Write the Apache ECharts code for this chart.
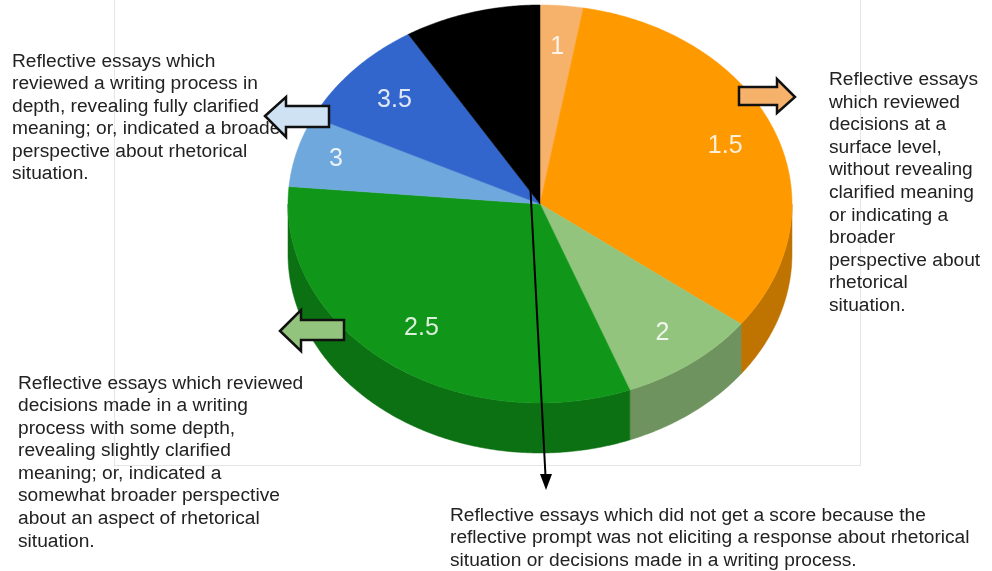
<!DOCTYPE html>
<html><head><meta charset="utf-8">
<style>html,body{margin:0;padding:0;background:#fff}#c{width:992px;height:571px}</style>
<script src="https://cdn.jsdelivr.net/npm/echarts@6/dist/echarts.min.js"></script>
</head><body><div id="c"></div>
<script>
const categories = ['1','1.5','2','2.5','3','3.5','No score'];
const shares = [2.75,32.55,8.9,32.2,5.8,9.05,8.75];
const topColors = ['#f6b26b','#ff9900','#93c47d','#109618','#6fa8dc','#3366cc','#000000'];
const sideColors = ['#b88650','#bf7300','#6e935e','#0c7112','#537ea5','#264d99','#000000'];
const labelRadii = [0.79,0.79,0.81,0.78,0.84,0.78,0];
const noteReviewedInDepth = 'Reflective essays which\nreviewed a writing process in\ndepth, revealing fully clarified\nmeaning; or, indicated a broader\nperspective about rhetorical\nsituation.';
const noteSurface = 'Reflective essays\nwhich reviewed\ndecisions at a\nsurface level,\nwithout revealing\nclarified meaning\nor indicating a\nbroader\nperspective about\nrhetorical\nsituation.';
const noteSomeDepth = 'Reflective essays which reviewed\ndecisions made in a writing\nprocess with some depth,\nrevealing slightly clarified\nmeaning; or, indicated a\nsomewhat broader perspective\nabout an aspect of rhetorical\nsituation.';
const noteNoScore = 'Reflective essays which did not get a score because the\nreflective prompt was not eliciting a response about rhetorical\nsituation or decisions made in a writing process.';

const CX=540, CY=204, RX=252, RY=199, DEPTH=50, FONT='"Liberation Sans", Arial, sans-serif';
const total = shares.reduce((a,b)=>a+b,0);
const rows = []; let acc = 0;
shares.forEach((s,i)=>{ rows.push([i, acc/total*360, (acc+s)/total*360]); acc+=s; });
const pt = (deg,f=1,dy=0)=>{const t=deg*Math.PI/180; return [CX+RX*f*Math.sin(t), CY-RY*f*Math.cos(t)+dy];};
const arc = (a,b,dy=0)=>{const out=[],n=Math.max(2,Math.ceil((b-a)*2)); for(let k=0;k<=n;k++) out.push(pt(a+(b-a)*k/n,1,dy)); return out;};

function renderSides(params, api){
  const i=api.value(0), a=Math.max(api.value(1),90), b=Math.min(api.value(2),270);
  if(b<=a) return {type:'group',children:[]};
  const pts=arc(a,b,0).concat(arc(a,b,DEPTH).reverse());
  return {type:'polygon',shape:{points:pts},style:{fill:sideColors[i],stroke:sideColors[i],lineWidth:0.5}};
}
function renderTops(params, api){
  const i=api.value(0), a=api.value(1), b=api.value(2);
  const pts=[[CX,CY]].concat(arc(a,b,0));
  const children=[{type:'polygon',shape:{points:pts},style:{fill:topColors[i],stroke:topColors[i],lineWidth:0.5}}];
  if(categories[i]!=='No score'){
    const p=pt((a+b)/2,labelRadii[i]);
    children.push({type:'text',x:p[0],y:p[1],z2:5,style:{text:categories[i],fill:'rgba(255,255,255,0.85)',font:'25px '+FONT,align:'center',verticalAlign:'middle'}});
  }
  return {type:'group',children};
}
const frame=(x1,y1,x2,y2)=>({type:'line',z:0,silent:true,shape:{x1,y1,x2,y2},style:{stroke:'#e6e6e6',lineWidth:1}});
const note=(x,y,text)=>({type:'text',z:10,silent:true,x,y,scaleX:1.064,style:{text,fill:'#222222',font:'18px '+FONT,lineHeight:22.55,align:'left',verticalAlign:'top'}});
const arrow=(points,fill)=>({type:'polygon',z:20,silent:true,shape:{points},style:{fill,stroke:'#111111',lineWidth:2.5,lineJoin:'miter'}});

const chart=echarts.init(document.getElementById('c'),null,{renderer:'canvas'});
chart.setOption({
  animation:false,
  backgroundColor:'#ffffff',
  series:[
    {type:'custom',coordinateSystem:'none',z:2,silent:true,encode:{value:[0,1,2]},data:rows,renderItem:renderSides},
    {type:'custom',coordinateSystem:'none',z:3,silent:true,encode:{value:[0,1,2]},data:rows,renderItem:renderTops}
  ],
  graphic:{elements:[
    frame(114.5,0,114.5,465),frame(860.5,0,860.5,465),frame(114,465.5,861,465.5),
    note(12,50.5,noteReviewedInDepth),
    note(829,69,noteSurface),
    note(18,372.5,noteSomeDepth),
    note(450,504.5,noteNoScore),
    arrow([[265,116],[286,97],[286,106],[329,106],[329,127],[286,127],[286,137]],'#cfe2f3'),
    arrow([[739,87],[777,87],[777,79],[795,97],[777,113],[777,105],[739,105]],'#f6b26b'),
    arrow([[280,331],[301,310],[301,320],[344,320],[344,340],[301,340],[301,351]],'#93c47d'),
    {type:'line',z:21,silent:true,shape:{x1:530.5,y1:190,x2:545.5,y2:476},style:{stroke:'#000',lineWidth:2}},
    {type:'polygon',z:21,silent:true,shape:{points:[[540,474],[552,474],[546,490]]},style:{fill:'#000'}}
  ]}
});
</script></body></html>
